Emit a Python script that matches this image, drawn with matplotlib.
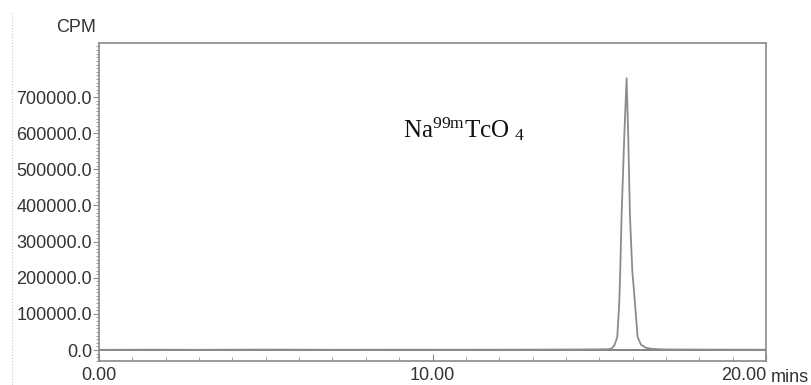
import matplotlib.pyplot as plt
import numpy as np
from matplotlib.lines import Line2D
from matplotlib.ticker import MultipleLocator, FixedLocator

# chromatogram (time in min, counts per minute)
time_min = [0.0, 1.5, 3.0, 5.0, 7.0, 9.0, 11.0, 13.0, 14.5, 15.2, 15.35, 15.45,
            15.54, 15.60, 15.63, 15.67, 15.75, 15.82, 15.87, 15.92, 15.99,
            16.07, 16.15, 16.25, 16.40, 16.60, 17.0, 18.0, 19.0, 20.0]
cpm = [500, 900, 600, 1200, 700, 900, 800, 1100, 1500, 2000, 3000, 12000,
       36000, 130000, 221000, 373000, 590000, 752000, 590000, 373000, 221000,
       130000, 36000, 15000, 6000, 3000, 1500, 1200, 1000, 900]

y_ticks = [0, 100000, 200000, 300000, 400000, 500000, 600000, 700000]
x_ticks = [0, 10, 20]
x_labels = ['0.00', '10.00', '20.00']
peak_label = r'$\mathrm{Na^{99m}TcO_{\ 4}}$'

plt.rcParams['font.family'] = ['Liberation Sans', 'DejaVu Sans']
plt.rcParams['mathtext.fontset'] = 'custom'
plt.rcParams['mathtext.rm'] = 'Liberation Serif'

axis_col = '#8a8a8a'
text_col = '#333333'

fig = plt.figure(figsize=(8.11, 3.85), dpi=100)
ax = fig.add_axes([99 / 811, 24 / 385, 667 / 811, 318 / 385])

ax.axhline(0, color='#6e6e6e', lw=1.2, zorder=1)
ax.plot(time_min, cpm, color='#8c8c8c', lw=1.3, zorder=2)

ax.set_xlim(0, 20)
ax.set_ylim(-30400, 849500)

for sp in ax.spines.values():
    sp.set_color(axis_col)
    sp.set_linewidth(1.2)

ax.yaxis.set_major_locator(FixedLocator(y_ticks))
ax.yaxis.set_minor_locator(MultipleLocator(10000))
ax.set_yticklabels([f'{v:.1f}' for v in y_ticks])
ax.xaxis.set_major_locator(FixedLocator(x_ticks))
ax.xaxis.set_minor_locator(MultipleLocator(1))
ax.set_xticklabels(x_labels)
# last label sits left of its tick, the unit follows it
ax.get_xticklabels()[-1].set_horizontalalignment('right')

ax.tick_params(axis='y', which='major', direction='out', length=4,
               color=axis_col, labelsize=13, labelcolor=text_col, pad=1)
ax.tick_params(axis='y', which='minor', direction='out', length=2.5,
               color=axis_col)
ax.tick_params(axis='x', which='major', direction='in', length=5,
               color=axis_col, labelsize=13, labelcolor=text_col, pad=4)
ax.tick_params(axis='x', which='minor', direction='in', length=3,
               color=axis_col)

fig.text(76 / 811, 1 - 28 / 385, 'CPM', ha='center', va='center',
         fontsize=13, color=text_col)
fig.text(771 / 811, 1 - 377 / 385, 'mins', ha='left', va='center',
         fontsize=13, color=text_col)

ax.text(9.12, 589000, peak_label, ha='left', va='baseline', fontsize=18,
        color='#111111')

fig.add_artist(Line2D([12 / 811, 12 / 811], [0, 0.97],
                      transform=fig.transFigure, ls=':', lw=0.8,
                      color='#c8c8c8'))

fig.savefig('out.png', dpi=100)
